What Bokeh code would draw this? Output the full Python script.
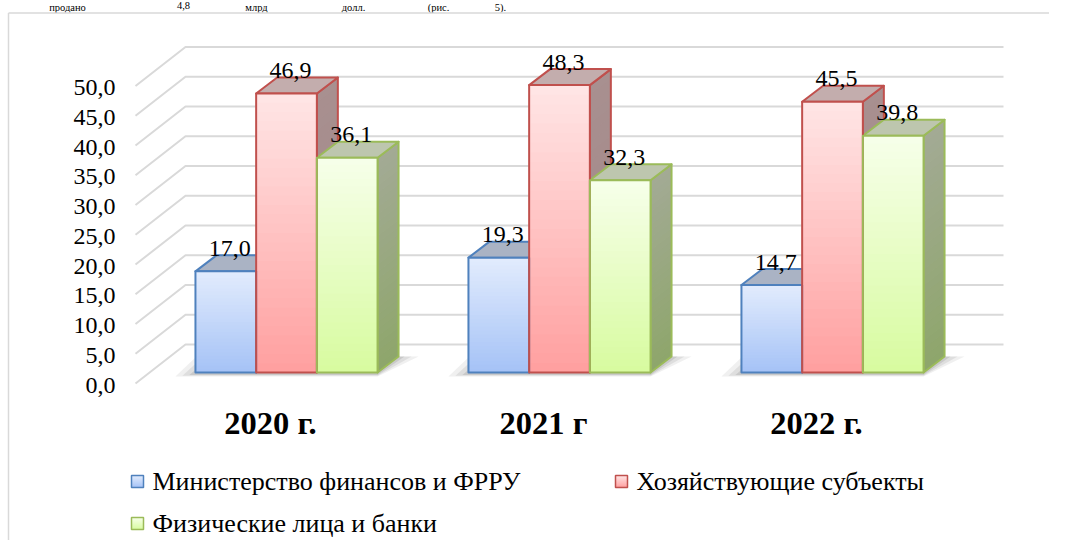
import numpy as np
from bokeh.plotting import figure
from bokeh.models import Range1d
from bokeh.core.properties import value
from bokeh.embed import file_html
from bokeh.resources import INLINE

# ---------------- data ----------------
categories = ["2020 г.", "2021 г", "2022 г."]
series_names = ["Министерство финансов и ФРРУ", "Хозяйствующие субъекты", "Физические лица и банки"]
ministry = [17.0, 19.3, 14.7]
enterprises = [46.9, 48.3, 45.5]
individuals = [36.1, 32.3, 39.8]
y_ticks = [0, 5, 10, 15, 20, 25, 30, 35, 40, 45, 50]
y_tick_labels = ["0,0", "5,0", "10,0", "15,0", "20,0", "25,0", "30,0", "35,0", "40,0", "45,0", "50,0"]
header_words = ["продано", "4,8", "млрд", "долл.", "(рис.", "5)."]

series_values = [ministry, enterprises, individuals]

# ---------------- styles / layout ----------------
FONT = "Liberation Serif"
W, H = 1049, 540
PXX = 273.0      # pixels per category step
PXY = 5.95       # pixels per value unit
AX, AY = 286.0, 372.0  # canvas position of first category centre / zero line


def X(px):
    return (px - AX) / PXX


def Y(py):
    return (AY - py) / PXY


def dx(px):
    return px / PXX


def dy(px):
    return px / PXY


BAR_W = dx(60.7)
DEPTH_X = dx(21)
DEPTH_Y = dy(16)

line_colors = ["#4f81bd", "#c0504d", "#9bbb59"]
front_top = ["#e2ecfd", "#ffe6e6", "#f7ffea"]
front_bottom = ["#a5c2f6", "#ff9f9f", "#d7fb9f"]
top_colors = ["#aab3c4", "#c3adad", "#bdc6ae"]
side_top = ["#9aa6bd", "#a89090", "#a3aa95"]
side_bottom = ["#8da0c4", "#a38585", "#8ea66b"]
legend_top = ["#e2ecfd", "#ffe6e6", "#f7ffea"]
legend_bottom = ["#a5c2f6", "#ff9f9f", "#d7fb9f"]
GRID = "#d9d9d9"


def hex2rgb(h):
    h = h.lstrip("#")
    return np.array([int(h[i:i + 2], 16) for i in (0, 2, 4)], dtype=float)


def lerp(c1, c2, t):
    a, b = hex2rgb(c1), hex2rgb(c2)
    c = a + (b - a) * t
    return "#%02x%02x%02x" % tuple(int(round(v)) for v in c)


p = figure(width=W, height=H,
           x_range=Range1d(X(0), X(W)), y_range=Range1d(Y(H), Y(0)),
           output_backend="svg", toolbar_location=None,
           x_axis_type=None, y_axis_type=None, min_border=0)
p.outline_line_color = None
p.background_fill_color = "white"
p.border_fill_color = "white"

# line of the document text just above the chart (kept fully inside the canvas)
header_cx = [67, 183, 256, 353, 438, 500]
p.text(x=[X(v) for v in header_cx], y=[Y(1.5)] * len(header_words), text=header_words,
       text_font=value(FONT), text_font_size="10.5px", text_align="center",
       text_baseline="top", text_color="black")

# outer chart border (top and left visible)
p.segment(x0=[X(8), X(8)], y0=[Y(12.5), Y(12.5)], x1=[X(1070), X(8)], y1=[Y(12.5), Y(560)],
          line_color=GRID, line_width=1.5)

# gridlines: left side wall + back wall
g_xs, g_ys = [], []
for v in y_ticks:
    g_xs.append([X(135), X(185), X(1003)])
    g_ys.append([v - dy(11), v + dy(28), v + dy(28)])
p.multi_line(xs=g_xs, ys=g_ys, line_color=GRID, line_width=2)

# tick labels
p.text(x=[X(115)] * len(y_ticks), y=[v - dy(12.5) for v in y_ticks], text=y_tick_labels,
       text_font=value(FONT), text_font_size="24px", text_align="right",
       text_baseline="middle", text_color="black")

# shadows under groups
for i in range(len(categories)):
    xL = i - 1.5 * BAR_W
    xR = i + 1.5 * BAR_W
    for grow, a in [(20, 0.07), (13, 0.09), (6, 0.12)]:
        sx = [xL - dx(grow), xR, xR + DEPTH_X + dx(grow), xL + DEPTH_X - dx(grow)]
        sy = [-dy(2 + grow * 0.1), -dy(2 + grow * 0.1), DEPTH_Y, DEPTH_Y]
        p.patch(sx, sy, fill_color="#303030", fill_alpha=a, line_color=None)

NS = 30
OV = dy(1.0)
side_xs, side_ys, side_cols = [], [], []
side_out_xs, side_out_ys, side_out_cols = [], [], []
top_xs, top_ys, top_cols, top_lc = [], [], [], []
fr_l, fr_r, fr_b, fr_t, fr_c = [], [], [], [], []
fo_l, fo_r, fo_b, fo_t, fo_c = [], [], [], [], []
lab_x, lab_y, lab_t = [], [], []

for i in range(len(categories)):
    for j, vals in enumerate(series_values):
        v = vals[i]
        x0 = i + (j - 1.5) * BAR_W
        x1 = x0 + BAR_W
        for k in range(NS):
            ya = v * k / NS
            yb = v * (k + 1) / NS + (OV if k < NS - 1 else 0)
            t = (k + 0.5) / NS
            side_xs.append([x1, x1 + DEPTH_X, x1 + DEPTH_X, x1])
            side_ys.append([ya, ya + DEPTH_Y, yb + DEPTH_Y, yb])
            side_cols.append(lerp(side_bottom[j], side_top[j], t))
        side_out_xs.append([x1, x1 + DEPTH_X, x1 + DEPTH_X, x1])
        side_out_ys.append([0, DEPTH_Y, v + DEPTH_Y, v])
        side_out_cols.append(line_colors[j])
        top_xs.append([x0, x1, x1 + DEPTH_X, x0 + DEPTH_X])
        top_ys.append([v, v, v + DEPTH_Y, v + DEPTH_Y])
        top_cols.append(top_colors[j])
        top_lc.append(line_colors[j])
        for k in range(NS):
            t = (k + 0.5) / NS
            fr_l.append(x0)
            fr_r.append(x1)
            fr_b.append(v * k / NS)
            fr_t.append(v * (k + 1) / NS + (OV if k < NS - 1 else 0))
            fr_c.append(lerp(front_bottom[j], front_top[j], t))
        fo_l.append(x0)
        fo_r.append(x1)
        fo_b.append(0)
        fo_t.append(v)
        fo_c.append(line_colors[j])
        lab_x.append((x0 + x1) / 2 + dx(4))
        lab_y.append(v + dy(23))
        lab_t.append(f"{v:.1f}".replace(".", ","))

p.patches(xs=side_xs, ys=side_ys, fill_color=side_cols, line_color=None)
p.patches(xs=side_out_xs, ys=side_out_ys, fill_color=None, line_color=side_out_cols,
          line_width=2, line_join="round")
p.patches(xs=top_xs, ys=top_ys, fill_color=top_cols, line_color=top_lc, line_width=2,
          line_join="round")
p.quad(left=fr_l, right=fr_r, bottom=fr_b, top=fr_t, fill_color=fr_c, line_color=None)
p.quad(left=fo_l, right=fo_r, bottom=fo_b, top=fo_t, fill_color=None, line_color=fo_c,
       line_width=2, line_join="round")

# value labels
p.text(x=lab_x, y=lab_y, text=lab_t, text_font=value(FONT), text_font_size="24px",
       text_align="center", text_baseline="middle", text_color="black")

# category labels
p.text(x=[i - dx(16) for i in range(len(categories))], y=[Y(422)] * len(categories),
       text=categories, text_font=value(FONT), text_font_size="32.5px", text_font_style="bold",
       text_align="center", text_baseline="middle", text_color="black")

# legend
legend_pos = [(131, 481), (615, 481), (131, 523)]
for j, (bx, by) in enumerate(legend_pos):
    n = 6
    for k in range(n):
        yt = by - 6 + 12 * k / n
        yb = by - 6 + 12 * (k + 1) / n + (0.5 if k < n - 1 else 0)
        p.quad(left=[X(bx)], right=[X(bx + 12)], bottom=[Y(yb)], top=[Y(yt)],
               fill_color=lerp(legend_top[j], legend_bottom[j], (k + 0.5) / n), line_color=None)
    p.quad(left=[X(bx)], right=[X(bx + 12)], bottom=[Y(by + 6)], top=[Y(by - 6)],
           fill_color=None, line_color=line_colors[j], line_width=1.5)
    p.text(x=[X(bx + 21)], y=[Y(by)], text=[series_names[j]], text_font=value(FONT),
           text_font_size="26px", text_align="left", text_baseline="middle", text_color="black")

open("out.html", "w").write(file_html(p, INLINE))
